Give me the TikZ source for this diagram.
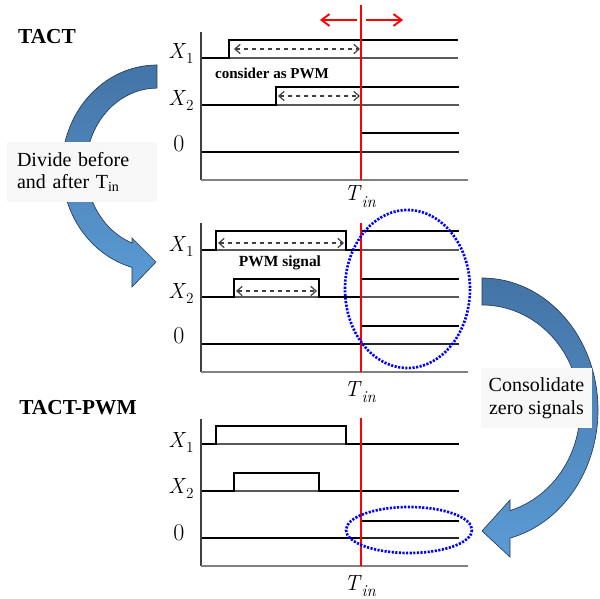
\documentclass[tikz,border=0pt]{standalone}
\usepackage{fontspec}
\setmainfont{Liberation Serif}
\newfontfamily\lmr{Latin Modern Roman}
\usetikzlibrary{arrows.meta}
\definecolor{arrdark}{RGB}{68,116,166}
\definecolor{arrlight}{RGB}{91,155,213}
\definecolor{arredge}{RGB}{40,60,85}
\definecolor{boxfill}{RGB}{248,248,248}
\newcommand\xlab[2]{\textit{#1}\raisebox{-3.75pt}{\fontsize{11.5}{12}\selectfont #2}}
\newcommand\tlab{\textit{T}\raisebox{-5pt}{\fontsize{12.5}{13}\selectfont\itshape in}}
\begin{document}
\begin{tikzpicture}[x=0.75pt,y=-0.75pt,
  sig/.style={line width=2pt, line join=miter},
  base/.style={line width=0.8pt, black!65},
  zbase/.style={line width=1.2pt, black!85},
  axv/.style={line width=1pt, black!75},
  axh/.style={line width=1.5pt, black!50},
  tinline/.style={red, line width=0.9pt},
  span/.style={dashed, line width=0.9pt, black!75, {Straight Barb[length=4pt,width=7pt]}-{Straight Barb[length=4pt,width=7pt]}},
  zone/.style={blue, line width=2pt, dash pattern=on 1.6pt off 1.1pt},
  lab/.style={font=\lmr\fontsize{16.5}{18}\selectfont, inner sep=0pt, anchor=base west},
  zlab/.style={font=\lmr\fontsize{18}{20}\selectfont, inner sep=0pt, anchor=base west},
  head/.style={font=\fontsize{16}{18}\selectfont\bfseries, inner sep=0pt},
  note/.style={font=\fontsize{11.3}{13}\selectfont\bfseries, inner sep=0pt},
  textbox/.style={fill=boxfill, font=\fontsize{15}{17}\selectfont, inner sep=0pt, minimum height=45pt},
  bigarrow/.style={draw=arredge, line width=0.5pt, top color=arrdark, bottom color=arrlight},
  redarrow/.style={red, line width=1.4pt, -{Straight Barb[length=6pt,width=9pt]}}
]
\useasboundingbox (0,0) rectangle (600,599);

% headings
\node[head] (tact) at (47,37) {TACT};
\node[head] (tactpwm) at (78,408) {TACT-PWM};

% big curved arrows
\path[bigarrow] (157,65) arc[start angle=-90, end angle=-254.7, x radius=95, y radius=103]
  -- (132,287) -- (156,262) -- (132,238) -- (132,243)
  arc[start angle=-249.4, end angle=-90, x radius=71, y radius=80] -- cycle;
\path[bigarrow] (482,278) arc[start angle=-90, end angle=76, x radius=116, y radius=132]
  -- (510,557) -- (482,531) -- (510,500) -- (510,510.6)
  arc[start angle=73.4, end angle=-90, x radius=98, y radius=105] -- cycle;

% text boxes
\node[textbox, minimum width=112.5pt, align=left, text width=97.5pt] (divide) at (82,172)
  {Divide before\\and after T\textsubscript{in}};
\node[textbox, minimum width=83pt, align=center] (consol) at (536.5,398)
  {Consolidate\\zero signals};

% ---------- panel 1 ----------
\draw[redarrow] (357,20) -- (320,20);
\draw[redarrow] (366,20) -- (403,20);
\draw[base] (229,58) -- (458,58);
\draw[sig] (201,58) -- (229,58) -- (229,40) -- (458,40);
\draw[base] (276,105) -- (459,105);
\draw[sig] (201,105) -- (276,105) -- (276,87) -- (459,87);
\draw[zbase] (361,152) -- (459,152);
\draw[sig] (201,152) -- (361,152) -- (361,133) -- (459,133);
\draw[axv] (201,32) -- (201,180);
\draw[axh] (201,180) -- (468,180);
\draw[tinline] (361,5) -- (361,180);
\coordinate (a1s) at (234,49); \coordinate (a1e) at (360,49);
\coordinate (a2s) at (278,96); \coordinate (a2e) at (360,96);
\draw[span] (a1s) -- (a1e);
\draw[span] (a2s) -- (a2e);
\node[note] (consider) at (272,73) {consider as PWM};
\node[lab] (p1x1) at (168,59) {\xlab{X}{1}};
\node[lab] (p1x2) at (168,106) {\xlab{X}{2}};
\node[zlab] (p1z) at (173,152) {0};
\node[lab] (p1t) at (344,201) {\tlab};

% ---------- panel 2 ----------
\draw[base] (216,250) -- (346,250);
\draw[base] (361,250) -- (459,250);
\draw[sig] (201,250) -- (216,250) -- (216,231) -- (346,231) -- (346,250) -- (361,250) -- (361,231) -- (459,231);
\draw[base] (234,297) -- (319,297);
\draw[base] (361,297) -- (459,297);
\draw[sig] (201,297) -- (234,297) -- (234,279) -- (319,279) -- (319,297) -- (361,297) -- (361,279) -- (459,279);
\draw[zbase] (361,344) -- (459,344);
\draw[sig] (201,344) -- (361,344) -- (361,326) -- (459,326);
\draw[axv] (201,223) -- (201,372);
\draw[axh] (201,372) -- (468,372);
\draw[tinline] (361,223) -- (361,372);
\coordinate (b1s) at (218,243); \coordinate (b1e) at (344,243);
\coordinate (b2s) at (236,291); \coordinate (b2e) at (317,291);
\draw[span] (b1s) -- (b1e);
\draw[span] (b2s) -- (b2e);
\node[note, font=\fontsize{11.6}{13}\selectfont\bfseries] (pwmsig) at (280,263) {PWM signal};
\node[lab] (p2x1) at (168,252) {\xlab{X}{1}};
\node[lab] (p2x2) at (168,298) {\xlab{X}{2}};
\node[zlab] (p2z) at (173,343) {0};
\node[lab] (p2t) at (344,396) {\tlab};
\draw[zone] (407.5,289) ellipse[x radius=62.5, y radius=79];

% ---------- panel 3 ----------
\draw[base] (216,444) -- (346,444);
\draw[sig] (201,444) -- (216,444) -- (216,426) -- (346,426) -- (346,444) -- (459,444);
\draw[base] (234,491) -- (319,491);
\draw[sig] (201,491) -- (234,491) -- (234,473) -- (319,473) -- (319,491) -- (459,491);
\draw[zbase] (361,538) -- (459,538);
\draw[sig] (201,538) -- (361,538) -- (361,521) -- (459,521);
\draw[axv] (201,419) -- (201,566);
\draw[axh] (201,566) -- (468,566);
\draw[tinline] (361,418) -- (361,566);
\node[lab] (p3x1) at (168,447) {\xlab{X}{1}};
\node[lab] (p3x2) at (168,493) {\xlab{X}{2}};
\node[zlab] (p3z) at (173,540) {0};
\node[lab] (p3t) at (344,590) {\tlab};
\draw[zone] (409,530) ellipse[x radius=63, y radius=23];
\end{tikzpicture}
\end{document}
